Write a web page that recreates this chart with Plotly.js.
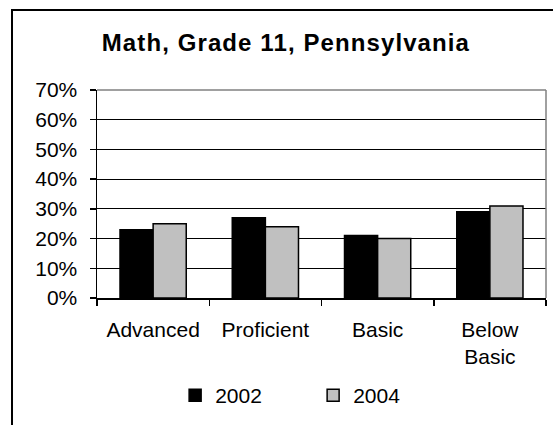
<!DOCTYPE html>
<html>
<head>
<meta charset="utf-8">
<script src="https://cdn.plot.ly/plotly-3.0.1.min.js"></script>
<style>
  html, body { margin: 0; padding: 0; background: #fff; }
  #chart { width: 553px; height: 425px; }
  #chart .gtitle { letter-spacing: 1.1px; }
</style>
</head>
<body>
<div id="chart"></div>
<script>
const categories = ["Advanced", "Proficient", "Basic", "Below<br>Basic"];
const values2002 = [0.23, 0.27, 0.21, 0.29];
const values2004 = [0.25, 0.24, 0.20, 0.31];
const seriesNames = ["2002", "2004"];
const yTickVals = [0, 0.1, 0.2, 0.3, 0.4, 0.5, 0.6, 0.7];
const chartTitle = "Math, Grade 11, Pennsylvania";

const FONT = "Liberation Sans, Arial, sans-serif";

const traces = [
  {
    type: "bar", name: seriesNames[0], x: categories, y: values2002,
    marker: { color: "#000000", line: { color: "#000000", width: 1.5 } },
    hoverinfo: "y"
  },
  {
    type: "bar", name: seriesNames[1], x: categories, y: values2004,
    marker: { color: "#C0C0C0", line: { color: "#000000", width: 1.5 } },
    hoverinfo: "y"
  }
];

const layout = {
  width: 553, height: 425,
  margin: { l: 97, r: 7, t: 90, b: 127 },
  paper_bgcolor: "#ffffff", plot_bgcolor: "#ffffff",
  font: { family: FONT, size: 21, color: "#000" },
  title: {
    text: "<b>" + chartTitle + "</b>",
    font: { family: FONT, size: 24, color: "#000" },
    x: 0.517, xref: "container", xanchor: "center",
    y: 0.899, yref: "container", yanchor: "middle"
  },
  barmode: "group",
  bargap: 0.41, bargroupgap: 0,
  xaxis: {
    type: "category",
    showline: true, linecolor: "#000", linewidth: 1.5,
    ticks: "outside", ticklen: 6, tickcolor: "#000", tickwidth: 1.5,
    tickson: "boundaries",
    ticklabelstandoff: 12,
    showgrid: false,
    tickfont: { family: FONT, size: 21, color: "#000" },
    fixedrange: true
  },
  yaxis: {
    range: [0, 0.7],
    tickvals: yTickVals, tickformat: ".0%",
    showline: true, linecolor: "#000", linewidth: 1.5,
    ticks: "outside", ticklen: 6, tickcolor: "#000", tickwidth: 1.5,
    ticklabelstandoff: 8,
    showgrid: true, gridcolor: "#000", gridwidth: 1,
    zeroline: false,
    tickfont: { family: FONT, size: 21, color: "#000" },
    fixedrange: true
  },
  showlegend: true,
  legend: {
    orientation: "h",
    x: 0.174, xanchor: "left",
    y: -0.469, yanchor: "middle",
    entrywidth: 93, entrywidthmode: "pixels",
    font: { family: FONT, size: 21, color: "#000" },
    bgcolor: "rgba(0,0,0,0)"
  },
  shapes: [
    { type: "line", xref: "paper", yref: "paper", x0: 0, x1: 1, y0: 1, y1: 1,
      line: { color: "#808080", width: 1.5 }, layer: "above" },
    { type: "line", xref: "paper", yref: "paper", x0: 1, x1: 1, y0: 0, y1: 1,
      line: { color: "#808080", width: 1.5 }, layer: "above" },
    { type: "rect", xref: "paper", yref: "paper", x0: -0.1893, x1: 1.2, y0: -0.8, y1: 1.3846,
      line: { color: "#000", width: 2 }, layer: "above" }
  ]
};

Plotly.newPlot("chart", traces, layout, { displayModeBar: false, staticPlot: true });
</script>
</body>
</html>
